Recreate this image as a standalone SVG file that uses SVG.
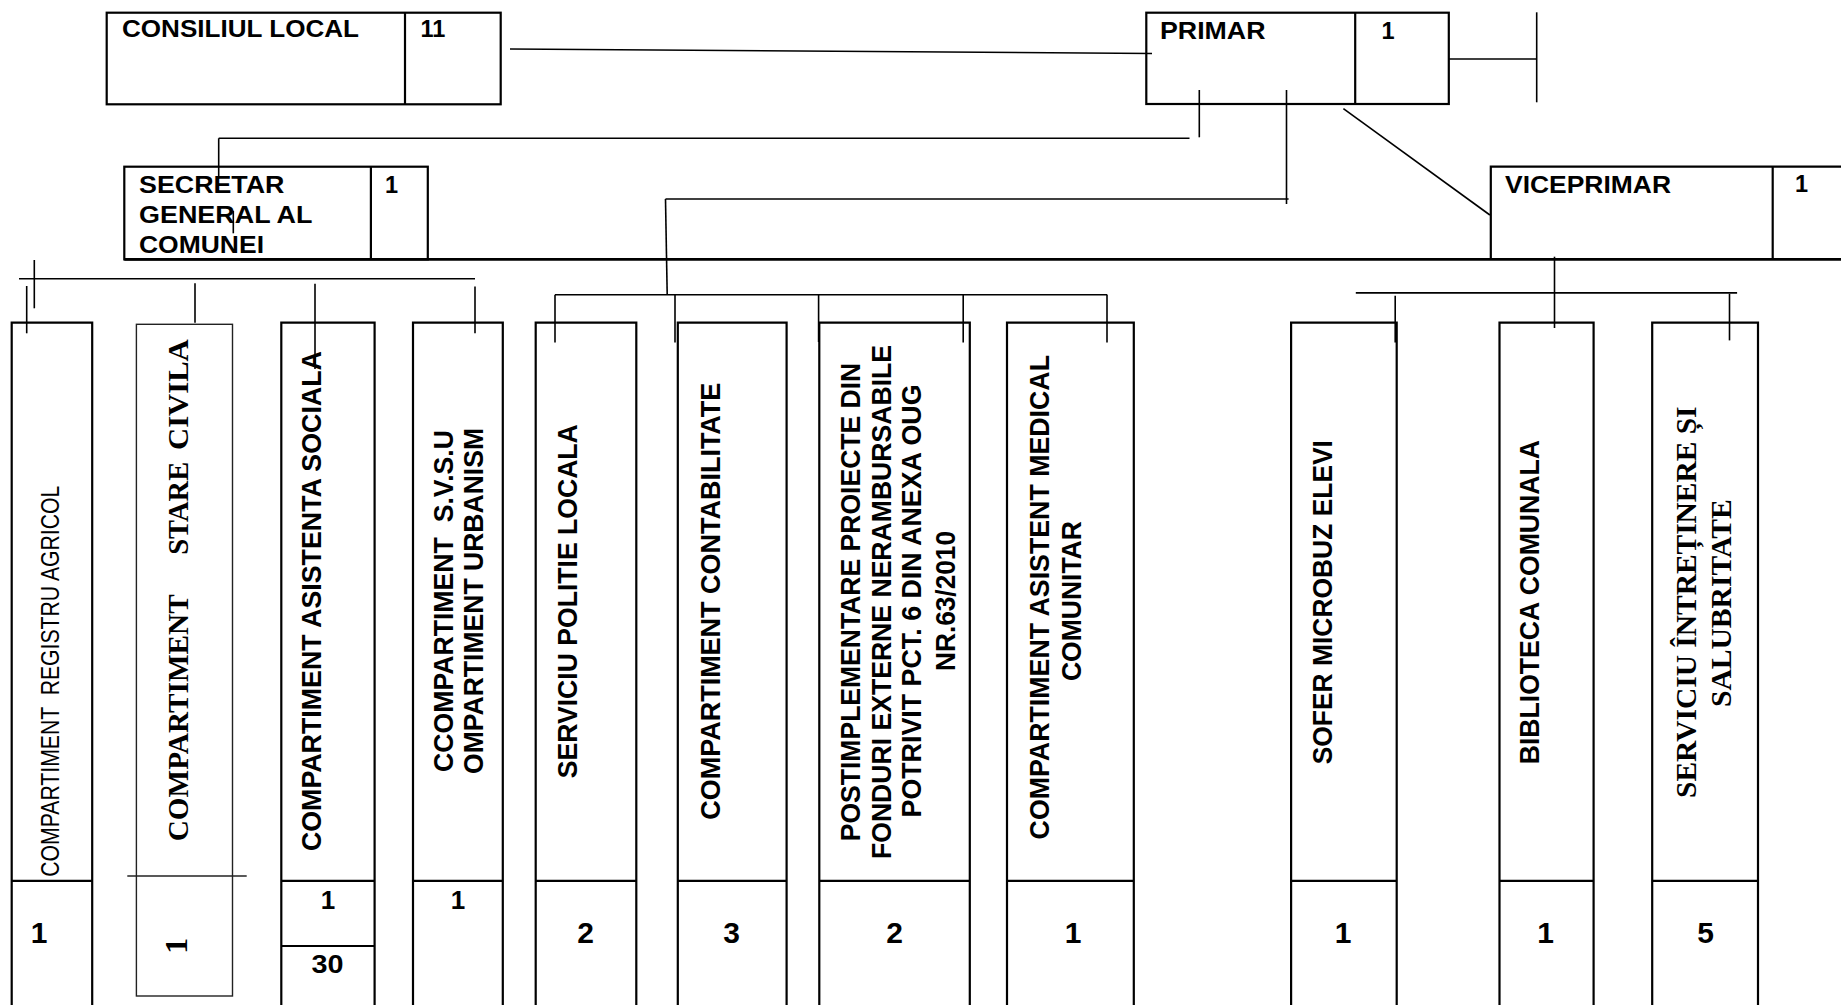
<svg xmlns="http://www.w3.org/2000/svg" width="1841" height="1005" viewBox="0 0 1841 1005">
<style>
.box{fill:none;stroke:#000;stroke-width:2.2}
.thin{fill:none;stroke:#222;stroke-width:1.4}
.ln{fill:none;stroke:#000;stroke-width:1.6}
.thick{fill:none;stroke:#000;stroke-width:2.6}
.h{font-family:"Liberation Sans",Arial,sans-serif;font-weight:bold;font-size:23.5px;fill:#000}
.vb{font-family:"Liberation Sans",Arial,sans-serif;font-weight:bold;font-size:27.5px;text-anchor:middle;fill:#000}
.vr{font-family:"Liberation Sans",Arial,sans-serif;font-size:25.5px;text-anchor:middle;fill:#000;white-space:pre}
.tb{font-family:"Liberation Serif","Times New Roman",serif;font-weight:bold;font-size:30px;text-anchor:middle;fill:#000}
.n{font-family:"Liberation Sans",Arial,sans-serif;font-weight:bold;font-size:30px;text-anchor:middle;fill:#000}
.ns{font-family:"Liberation Sans",Arial,sans-serif;font-weight:bold;font-size:26px;text-anchor:middle;fill:#000}
</style>
<rect x="0" y="0" width="1841" height="1005" fill="#fff"/>

<g id="connectors">
  <line class="ln" x1="510" y1="49" x2="1152" y2="53.5"/>
  <line class="ln" x1="1449" y1="59" x2="1536.7" y2="59"/>
  <line class="ln" x1="1536.7" y1="12.3" x2="1536.7" y2="102.3"/>
  <line class="ln" x1="1199.3" y1="90" x2="1199.3" y2="137.3"/>
  <line class="ln" x1="218.7" y1="138.3" x2="1189.5" y2="138.3"/>
  <line class="ln" x1="218.7" y1="138.3" x2="218.7" y2="176"/>
  <line class="ln" x1="233.3" y1="210.7" x2="233.3" y2="233.3"/>
  <line class="ln" x1="1286.5" y1="90" x2="1286.5" y2="204"/>
  <line class="ln" x1="665.5" y1="199" x2="1288.6" y2="199"/>
  <line class="ln" x1="665.5" y1="199" x2="667.2" y2="294.8"/>
  <line class="ln" x1="1343.4" y1="108.7" x2="1489.9" y2="215"/>
  <line class="thick" x1="124.3" y1="259.4" x2="1841" y2="259.4"/>
  <line class="ln" x1="555" y1="294.8" x2="1107.2" y2="294.8"/>
  <line class="ln" x1="555" y1="294.8" x2="555" y2="342.4"/>
  <line class="ln" x1="675" y1="294.8" x2="675" y2="342.4"/>
  <line class="ln" x1="818.6" y1="294.8" x2="818.6" y2="342"/>
  <line class="ln" x1="963.2" y1="294.8" x2="963.2" y2="342.4"/>
  <line class="ln" x1="1107" y1="294.8" x2="1107" y2="342.4"/>
  <line class="ln" x1="1554.5" y1="256.7" x2="1554.5" y2="328"/>
  <line class="ln" x1="1355.8" y1="292.9" x2="1737.1" y2="292.9"/>
  <line class="ln" x1="1395.2" y1="295.7" x2="1395.2" y2="342.4"/>
  <line class="ln" x1="1729.5" y1="293.7" x2="1729.5" y2="340.4"/>
  <line class="ln" x1="19" y1="278.8" x2="475" y2="278.8"/>
  <line class="ln" x1="34.3" y1="260" x2="34.3" y2="308.3"/>
  <line class="ln" x1="26.7" y1="286" x2="26.7" y2="333.3"/>
  <line class="ln" x1="195" y1="283.3" x2="195" y2="322.7"/>
  <line class="ln" x1="315" y1="283.8" x2="315" y2="368.9"/>
  <line class="ln" x1="475" y1="286.6" x2="475" y2="333.3"/>
</g>

<g id="consiliul-local">
  <rect class="box" x="106.7" y="12.7" width="394" height="91.6"/>
  <line class="box" x1="405" y1="12.7" x2="405" y2="104.3"/>
  <text class="h" x="122" y="37.3" textLength="237" lengthAdjust="spacingAndGlyphs">CONSILIUL LOCAL</text>
  <text class="h" x="420.5" y="37.3">11</text>
</g>

<g id="primar">
  <rect class="box" x="1146.3" y="12.7" width="302.5" height="91.3"/>
  <line class="box" x1="1355.2" y1="12.7" x2="1355.2" y2="104"/>
  <text class="h" x="1160" y="39" textLength="105.5" lengthAdjust="spacingAndGlyphs">PRIMAR</text>
  <text class="h" x="1381.5" y="39">1</text>
</g>

<g id="secretar">
  <rect class="box" x="124.3" y="166.7" width="303.5" height="92.7"/>
  <line class="box" x1="370.9" y1="166.7" x2="370.9" y2="259.4"/>
  <text class="h" x="139" y="193.3" textLength="145.5" lengthAdjust="spacingAndGlyphs">SECRETAR</text>
  <text class="h" x="139" y="222.7" textLength="173.5" lengthAdjust="spacingAndGlyphs">GENERAL AL</text>
  <text class="h" x="139" y="252.7" textLength="125" lengthAdjust="spacingAndGlyphs">COMUNEI</text>
  <text class="h" x="385" y="193.3">1</text>
</g>

<g id="viceprimar">
  <path class="box" d="M1845 166.7 H1490.8 V259.4"/>
  <line class="box" x1="1772.7" y1="166.7" x2="1772.7" y2="259.4"/>
  <text class="h" x="1505" y="192.7" textLength="166" lengthAdjust="spacingAndGlyphs">VICEPRIMAR</text>
  <text class="h" x="1795" y="191.7">1</text>
</g>

<g id="registru-agricol">
  <path class="box" d="M11.7 1010 V322.6 H92.2 V1010"/>
  <line class="box" x1="11.7" y1="880.8" x2="92.2" y2="880.8"/>
  <text class="vr" transform="translate(0,681.2) rotate(-90)" x="0" y="59.3" textLength="391" lengthAdjust="spacingAndGlyphs">COMPARTIMENT  REGISTRU AGRICOL</text>
  <text class="n" x="39" y="943.3">1</text>
</g>

<g id="stare-civila">
  <rect class="thin" x="136.4" y="324.3" width="96.1" height="671.7"/>
  <line class="thin" x1="127.3" y1="876" x2="246.7" y2="876"/>
  <text class="tb" transform="translate(0,717.8) rotate(-90)" x="0" y="188.3" textLength="247" lengthAdjust="spacingAndGlyphs">COMPARTIMENT</text>
  <text class="tb" transform="translate(0,508.3) rotate(-90)" x="0" y="188.3" textLength="93" lengthAdjust="spacingAndGlyphs">STARE</text>
  <text class="tb" transform="translate(0,394.6) rotate(-90)" x="0" y="188.3" textLength="110.7" lengthAdjust="spacingAndGlyphs">CIVILA</text>
  <text class="tb" style="font-size:32px" transform="translate(0,945.7) rotate(-90)" x="0" y="187.3">1</text>
</g>

<g id="asistenta-sociala">
  <path class="box" d="M281.3 1010 V322.6 H374.6 V1010"/>
  <line class="box" x1="281.3" y1="880.8" x2="374.6" y2="880.8"/>
  <line class="box" x1="281.3" y1="946" x2="374.6" y2="946"/>
  <text class="vb" transform="translate(0,601.1) rotate(-90)" x="0" y="320.7" textLength="500" lengthAdjust="spacingAndGlyphs">COMPARTIMENT ASISTENTA SOCIALA</text>
  <text class="ns" x="328" y="909.3">1</text>
  <text class="ns" x="327.5" y="973.3" textLength="32" lengthAdjust="spacingAndGlyphs">30</text>
</g>

<g id="svsu-urbanism">
  <path class="box" d="M413 1010 V322.6 H502.8 V1010"/>
  <line class="box" x1="413" y1="880.8" x2="502.8" y2="880.8"/>
  <text class="vb" style="white-space:pre" transform="translate(0,601) rotate(-90)" x="0" y="453.3" textLength="342" lengthAdjust="spacingAndGlyphs">CCOMPARTIMENT  S.V.S.U</text>
  <text class="vb" transform="translate(0,601) rotate(-90)" x="0" y="483.3" textLength="346" lengthAdjust="spacingAndGlyphs">OMPARTIMENT URBANISM</text>
  <text class="ns" x="458" y="909.3">1</text>
</g>

<g id="politie-locala">
  <path class="box" d="M535.7 1010 V322.6 H636.3 V1010"/>
  <line class="box" x1="535.7" y1="880.8" x2="636.3" y2="880.8"/>
  <text class="vb" transform="translate(0,601.2) rotate(-90)" x="0" y="577" textLength="354" lengthAdjust="spacingAndGlyphs">SERVICIU POLITIE LOCALA</text>
  <text class="n" x="585.5" y="943.3">2</text>
</g>

<g id="contabilitate">
  <path class="box" d="M677.8 1010 V322.6 H786.6 V1010"/>
  <line class="box" x1="677.8" y1="880.8" x2="786.6" y2="880.8"/>
  <text class="vb" transform="translate(0,601.2) rotate(-90)" x="0" y="719.7" textLength="437" lengthAdjust="spacingAndGlyphs">COMPARTIMENT CONTABILITATE</text>
  <text class="n" x="731.5" y="943.3">3</text>
</g>

<g id="postimplementare">
  <path class="box" d="M819.3 1010 V322.6 H969.8 V1010"/>
  <line class="box" x1="819.3" y1="880.8" x2="969.8" y2="880.8"/>
  <text class="vb" transform="translate(0,602) rotate(-90)" x="0" y="859.9" textLength="478.5" lengthAdjust="spacingAndGlyphs">POSTIMPLEMENTARE PROIECTE DIN</text>
  <text class="vb" transform="translate(0,602) rotate(-90)" x="0" y="891.4" textLength="514" lengthAdjust="spacingAndGlyphs">FONDURI EXTERNE NERAMBURSABILE</text>
  <text class="vb" transform="translate(0,601) rotate(-90)" x="0" y="920.9" textLength="433" lengthAdjust="spacingAndGlyphs">POTRIVIT PCT. 6 DIN ANEXA OUG</text>
  <text class="vb" transform="translate(0,601) rotate(-90)" x="0" y="954.6" textLength="140" lengthAdjust="spacingAndGlyphs">NR.63/2010</text>
  <text class="n" x="894.5" y="943.3">2</text>
</g>

<g id="asistent-medical">
  <path class="box" d="M1007 1010 V322.6 H1133.8 V1010"/>
  <line class="box" x1="1007" y1="880.8" x2="1133.8" y2="880.8"/>
  <text class="vb" transform="translate(0,597.2) rotate(-90)" x="0" y="1049.3" textLength="484.4" lengthAdjust="spacingAndGlyphs">COMPARTIMENT ASISTENT MEDICAL</text>
  <text class="vb" transform="translate(0,601.1) rotate(-90)" x="0" y="1080.8" textLength="160" lengthAdjust="spacingAndGlyphs">COMUNITAR</text>
  <text class="n" x="1073" y="943.3">1</text>
</g>

<g id="sofer-microbuz">
  <path class="box" d="M1291.1 1010 V322.6 H1396.7 V1010"/>
  <line class="box" x1="1291.1" y1="880.8" x2="1396.7" y2="880.8"/>
  <text class="vb" transform="translate(0,602.2) rotate(-90)" x="0" y="1332" textLength="324.3" lengthAdjust="spacingAndGlyphs">SOFER MICROBUZ ELEVI</text>
  <text class="n" x="1343" y="943.3">1</text>
</g>

<g id="biblioteca">
  <path class="box" d="M1499.5 1010 V322.6 H1593.6 V1010"/>
  <line class="box" x1="1499.5" y1="880.8" x2="1593.6" y2="880.8"/>
  <text class="vb" transform="translate(0,602.2) rotate(-90)" x="0" y="1539" textLength="324.3" lengthAdjust="spacingAndGlyphs">BIBLIOTECA COMUNALA</text>
  <text class="n" x="1545.5" y="943.3">1</text>
</g>

<g id="intretinere-salubritate">
  <path class="box" d="M1652.2 1010 V322.6 H1758 V1010"/>
  <line class="box" x1="1652.2" y1="880.8" x2="1758" y2="880.8"/>
  <text class="tb" transform="translate(0,602.2) rotate(-90)" x="0" y="1696" textLength="391.5" lengthAdjust="spacingAndGlyphs">SERVICIU ÎNTREȚINERE ȘI</text>
  <text class="tb" transform="translate(0,603.2) rotate(-90)" x="0" y="1730.6" textLength="207.7" lengthAdjust="spacingAndGlyphs">SALUBRITATE</text>
  <text class="n" x="1705.7" y="943.3">5</text>
</g>
</svg>
